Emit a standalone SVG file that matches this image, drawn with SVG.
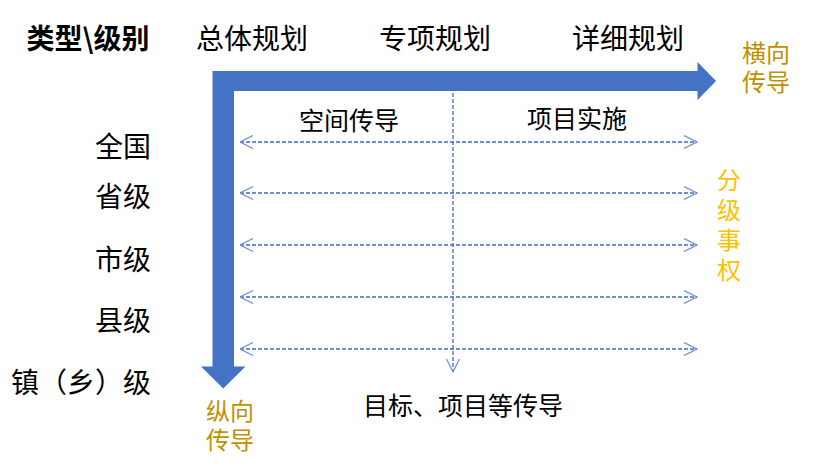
<svg xmlns="http://www.w3.org/2000/svg" width="823" height="472" viewBox="0 0 823 472">
<style>
text{font-family:"Noto Sans CJK SC","Microsoft YaHei",sans-serif;fill:#000;dominant-baseline:central}
.big{font-size:28px}
.mid{font-size:25px}
.gold{fill:#BF9000;font-size:24px}
.amber{fill:#FFC000;font-size:24px;writing-mode:vertical-rl;letter-spacing:6px}
.dash{stroke:#3F6BC0;stroke-width:1.3;stroke-dasharray:4 2;fill:none}
</style>
<defs>
<marker id="oa" viewBox="0 0 14 14" refX="13.5" refY="7" markerWidth="14" markerHeight="14" markerUnits="userSpaceOnUse" orient="auto-start-reverse">
<path d="M0.5,0.5 L13.5,7 L0.5,13.5" fill="none" stroke="#6A8FD8" stroke-width="1.2"/>
</marker>
</defs>
<g id="main-arrow">
<path d="M212.5,71 H697.5 V62 L716,81 L697.5,100 V91 H234 V366.5 H245.5 L223.3,388.5 L201,366.5 H212.5 Z" fill="#4472C4"/>
</g>
<g id="connectors">
<line class="dash" x1="240" y1="142" x2="697" y2="142" marker-start="url(#oa)" marker-end="url(#oa)"/>
<line class="dash" x1="240" y1="193" x2="697" y2="193" marker-start="url(#oa)" marker-end="url(#oa)"/>
<line class="dash" x1="240" y1="245" x2="697" y2="245" marker-start="url(#oa)" marker-end="url(#oa)"/>
<line class="dash" x1="240" y1="297" x2="697" y2="297" marker-start="url(#oa)" marker-end="url(#oa)"/>
<line class="dash" x1="240" y1="349" x2="697" y2="349" marker-start="url(#oa)" marker-end="url(#oa)"/>
<line class="dash" x1="453" y1="93" x2="453" y2="372" marker-end="url(#oa)"/>
</g>
<g id="header">
<text x="88" y="37" class="big" font-weight="bold" text-anchor="middle">类型\级别</text>
<text x="252" y="37" class="big" text-anchor="middle">总体规划</text>
<text x="435" y="37" class="big" text-anchor="middle">专项规划</text>
<text x="628" y="37" class="big" text-anchor="middle">详细规划</text>
</g>
<g id="levels">
<text x="151" y="145" class="big" text-anchor="end">全国</text>
<text x="151" y="195" class="big" text-anchor="end">省级</text>
<text x="151" y="258" class="big" text-anchor="end">市级</text>
<text x="151" y="319" class="big" text-anchor="end">县级</text>
<text x="151" y="381" class="big" text-anchor="end">镇（乡）级</text>
</g>
<g id="inner-labels">
<text x="349" y="119" class="mid" text-anchor="middle">空间传导</text>
<text x="577" y="117" class="mid" text-anchor="middle">项目实施</text>
<text x="463" y="404" class="mid" text-anchor="middle">目标、项目等传导</text>
</g>
<g id="horizontal-label">
<text x="766" y="51" class="gold" text-anchor="middle">横向<tspan x="766" dy="29">传导</tspan></text>
</g>
<g id="vertical-label">
<text x="230" y="409" class="gold" text-anchor="middle">纵向<tspan x="230" dy="29">传导</tspan></text>
</g>
<g id="authority-label">
<text x="729" y="168" class="amber">分级事权</text>
</g>
</svg>
